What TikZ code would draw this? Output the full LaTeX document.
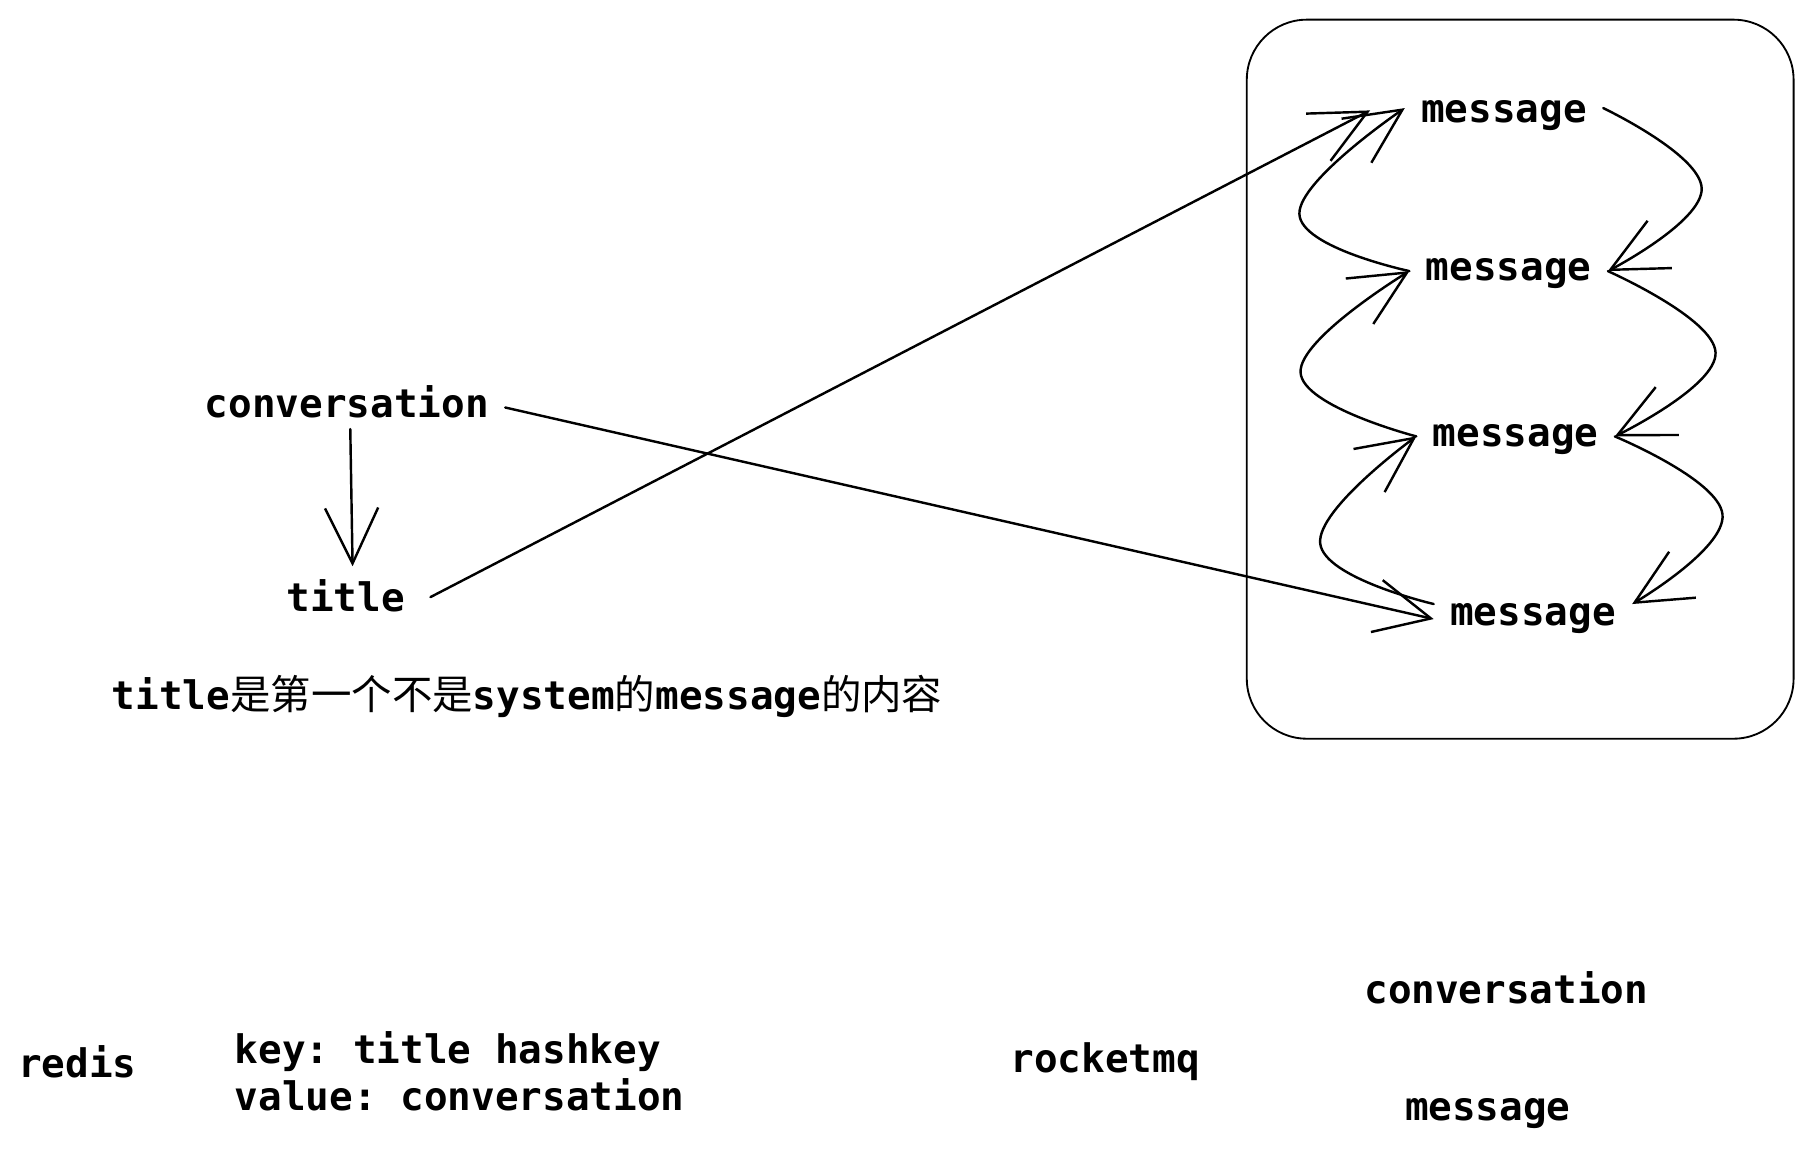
\documentclass[tikz,border=0pt]{standalone}
\usepackage{fontspec}
\setmonofont{DejaVu Sans Mono}
\newfontfamily\cjk{Noto Sans CJK SC}
\usetikzlibrary{arrows.meta}
\newcommand\zh[1]{{\cjk\mdseries\fontsize{35}{41}\selectfont #1}}
\begin{document}
\begin{tikzpicture}[x=1pt,y=-1pt,
  lbl/.style={anchor=base, font=\fontsize{34}{41}\selectfont\ttfamily\bfseries,
    inner xsep=14pt, inner ysep=2pt, text height=25pt, text depth=8pt},
  plain/.style={anchor=base west, font=\fontsize{34}{41}\selectfont\ttfamily\bfseries,
    inner sep=0pt, align=left},
  conn/.style={line width=2.1pt, line cap=round, line join=round,
    -{Straight Barb[length=48pt,width=46pt,line width=2.1pt]}},
  frame/.style={draw, line width=1.6pt, rounded corners=52pt}]
\useasboundingbox (0,0) rectangle (1568.3,995.7);

% frame
\node[frame, minimum width=473pt, minimum height=622pt, inner sep=0pt] (box) at (1315,328) {};

% nodes
\node[lbl] (m1) at (1301,106) {message};
\node[lbl] (m2) at (1305,243) {message};
\node[lbl] (m3) at (1311,386) {message};
\node[lbl] (m4) at (1326,541) {message};
\node[lbl] (conv) at (300,361) {conversation};
\node[lbl] (title) at (299,529) {title};
\node[lbl] (cap) at (456,614) {title\zh{是第一个不是}system\zh{的}message\zh{的内容}};
\node[lbl] (redis) at (67,932) {redis};
\node[plain] (kv) at (203,961) {key: title hashkey\\value: conversation};
\node[lbl] (mq) at (956,928) {rocketmq};
\node[lbl] (conv2) at (1303,868) {conversation};
\node[lbl] (msg2) at (1287,969) {message};

% straight connectors
\draw[conn] ([xshift=3pt]conv.south) -- ([xshift=6pt,yshift=12pt]title.north);
\draw[conn] ([xshift=8pt,yshift=4pt]title.east) -- ([xshift=-30pt,yshift=2pt]m1.west);
\draw[conn] (conv.east) -- ([yshift=-3pt]m4.west);

% right side chain
\draw[conn] plot[smooth, tension=0.75] coordinates {([yshift=4pt]m1.east) (1472,163) (m2.east)};
\draw[conn] plot[smooth, tension=0.75] coordinates {(m2.east) (1484,305) (m3.east)};
\draw[conn] plot[smooth, tension=0.75] coordinates {(m3.east) (1490,445) ([yshift=10pt]m4.east)};

% left side chain
\draw[conn] plot[smooth, tension=0.75] coordinates {(m2.west) (1124,185) ([yshift=4pt]m1.west)};
\draw[conn] plot[smooth, tension=0.75] coordinates {(m3.west) (1125,322) (m2.west)};
\draw[conn] plot[smooth, tension=0.75] coordinates {([yshift=10pt]m4.west) (1142,470) (m3.west)};
\end{tikzpicture}
\end{document}
